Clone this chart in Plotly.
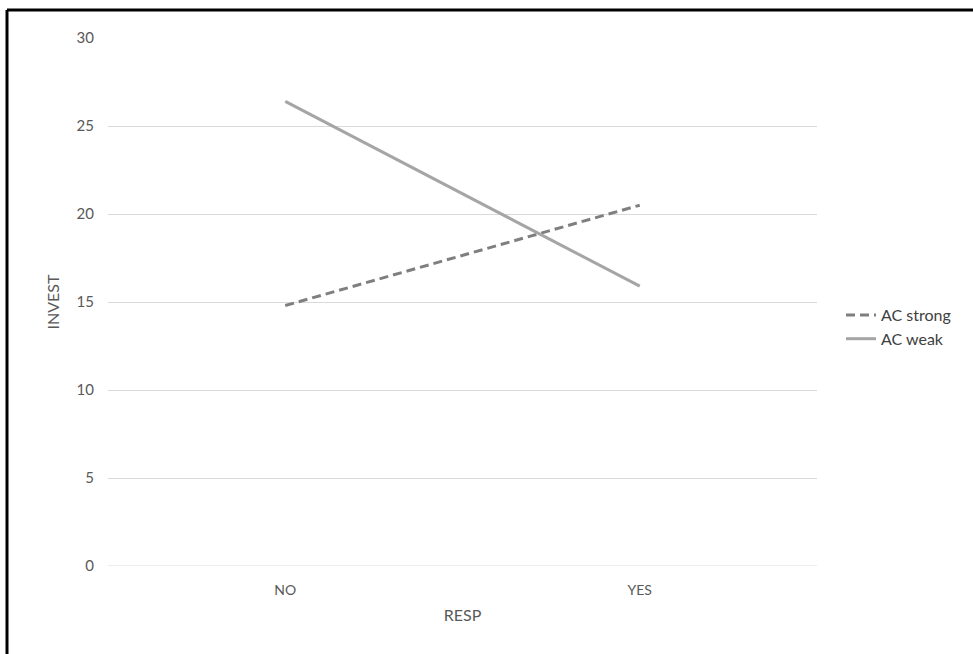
import plotly.graph_objects as go

categories = ["NO", "YES"]
ac_strong = [14.8, 20.5]
ac_weak = [26.4, 15.9]
y_ticks = [0, 5, 10, 15, 20, 25, 30]

W, H = 973, 654
L, T = 108, 38
pw, ph = 709, 528
R, B = W - L - pw, H - T - ph

def px_x(p):
    return (p - L) / pw

def px_y(p):
    return (T + ph - p) / ph

font_fam = "Lato, Open Sans, sans-serif"

fig = go.Figure()
fig.add_trace(go.Scatter(x=categories, y=ac_strong, mode="lines", name="AC strong",
                         line=dict(color="#7f7f7f", width=3, dash="9px,5px")))
fig.add_trace(go.Scatter(x=categories, y=ac_weak, mode="lines", name="AC weak",
                         line=dict(color="#a5a5a5", width=3)))

border = dict(color="black", width=3)
fig.update_layout(
    width=W, height=H,
    margin=dict(l=L, r=R, t=T, b=B),
    paper_bgcolor="white", plot_bgcolor="white",
    font=dict(family=font_fam, size=14, color="#595959"),
    showlegend=True,
    legend=dict(x=px_x(841), y=px_y(327), xanchor="left", yanchor="middle",
                font=dict(size=16, color="#404040"), tracegroupgap=0,
                itemwidth=30),
    xaxis=dict(type="category", range=[-0.5, 1.5], showgrid=False, zeroline=False,
               showline=False, ticks="", ticklabelstandoff=14,
               tickfont=dict(size=14, color="#595959"),
               title=dict(text="RESP", font=dict(size=16, color="#595959"), standoff=12)),
    yaxis=dict(range=[0, 30], tickvals=y_ticks, showgrid=True, gridcolor="#d9d9d9",
               gridwidth=1, zeroline=False, showline=False, ticklabelstandoff=13,
               tickfont=dict(size=15, color="#595959"), ticks="",
               title=dict(text="INVEST", font=dict(size=16, color="#595959"), standoff=12)),
    shapes=[dict(type="line", xref="paper", yref="y", x0=0, x1=1, y0=0, y1=0,
                 line=dict(color="#d9d9d9", width=1), layer="below"),
            dict(type="line", xref="paper", yref="paper",
                 x0=px_x(7), x1=px_x(W + 5), y0=px_y(10), y1=px_y(10), line=border),
            dict(type="line", xref="paper", yref="paper",
                 x0=px_x(7), x1=px_x(7), y0=px_y(10), y1=px_y(H + 5), line=border)],
)

fig.write_html("out.html", config={"displayModeBar": False},
               post_script="document.body.style.margin='0';document.body.style.overflow='hidden';")
